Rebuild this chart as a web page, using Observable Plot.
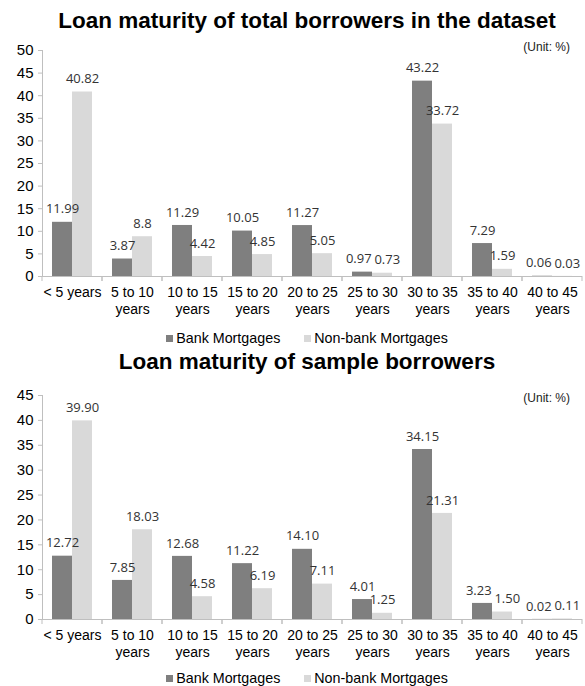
<!DOCTYPE html>
<html>
<head>
<meta charset="utf-8">
<script src="https://cdn.jsdelivr.net/npm/d3@7"></script>
<script src="https://cdn.jsdelivr.net/npm/@observablehq/plot@0.6"></script>
<style>
  body { margin: 0; background: #fff; font-family: "Liberation Sans", Arial, sans-serif; }
  #page { position: relative; width: 585px; height: 686px; overflow: hidden; background: #fff; }
  .title { position: absolute; left: 0; width: 585px; padding-left: 29px; box-sizing: border-box;
           text-align: center; font-weight: bold; font-size: 22.5px; color: #000; white-space: nowrap; }
  .unit { position: absolute; right: 15px; font-size: 12px; color: #222; }
  .legend { position: absolute; left: 0; width: 585px; padding-left: 29px; box-sizing: border-box;
            text-align: center; font-size: 14.3px; color: #000; white-space: nowrap; }
  .legend .item { display: inline-block; margin: 0 12px; }
  .legend .sw { display: inline-block; width: 7px; height: 7px; margin-right: 3px; vertical-align: 1px; }
  .chart { position: absolute; left: 0; }
</style>
</head>
<body>
<div id="page"></div>
<script>
// ---- data ----
const categories = ["< 5 years", "5 to 10\nyears", "10 to 15\nyears", "15 to 20\nyears", "20 to 25\nyears",
                    "25 to 30\nyears", "30 to 35\nyears", "35 to 40\nyears", "40 to 45\nyears"];
const series = ["Bank Mortgages", "Non-bank Mortgages"];
const seriesColors = ["#7f7f7f", "#d9d9d9"];

const totalTitle = "Loan maturity of total borrowers in the dataset";
const totalBank    = [11.99, 3.87, 11.29, 10.05, 11.27, 0.97, 43.22, 7.29, 0.06];
const totalNonBank = [40.82, 8.8, 4.42, 4.85, 5.05, 0.73, 33.72, 1.59, 0.03];
const totalTicks   = [0, 5, 10, 15, 20, 25, 30, 35, 40, 45, 50];

const sampleTitle = "Loan maturity of sample borrowers";
const sampleBank    = [12.72, 7.85, 12.68, 11.22, 14.10, 4.01, 34.15, 3.23, 0.02];
const sampleNonBank = [39.90, 18.03, 4.58, 6.19, 7.11, 1.25, 21.31, 1.50, 0.11];
const sampleTicks   = [0, 5, 10, 15, 20, 25, 30, 35, 40, 45];

const unitText = "(Unit: %)";

// ---- layout ----
const W = 585, ML = 39, MR = 0;
const barWidth = (W - ML - MR) / categories.length / 3;  // x band: padding 0, paddingOuter 0.5

// ---- helpers ----
function rows(bank, nonbank, fmt) {
  return categories.flatMap((c, i) => {
    const crowded = Math.abs(bank[i] - nonbank[i]) < 2;  // labels would collide if centred
    return [
      {cat: c, series: series[0], value: bank[i], label: fmt(bank[i]), crowded},
      {cat: c, series: series[1], value: nonbank[i], label: fmt(nonbank[i]), crowded}
    ];
  });
}

function boundaryTicks(index, scales) {
  const r = scales.x.range();
  const y0 = scales.y(0);
  const g = d3.create("svg:g").attr("stroke", "#bfbfbf");
  for (const xv of [r[0], r[1]]) {
    g.append("line").attr("x1", xv).attr("x2", xv).attr("y1", y0).attr("y2", y0 + 5);
  }
  return g.node();
}

function makeChart(data, ticks, height, marginTop, marginBottom) {
  const labelStyle = {fx: "cat", x: "series", y: "value", text: "label", dy: -13,
                      fontFamily: "'Open Sans', sans-serif", fontSize: 13, fill: "#333"};
  return Plot.plot({
    width: W,
    height,
    marginLeft: ML,
    marginRight: MR,
    marginTop,
    marginBottom,
    style: {fontFamily: "'Liberation Sans', Arial, sans-serif", fontSize: "14px", color: "#000", background: "transparent"},
    fx: {domain: categories, padding: 0, label: null, axis: null},
    x: {domain: series, padding: 0, paddingOuter: 0.5, axis: null},
    y: {domain: [0, d3.max(ticks)], label: null, axis: null},
    color: {domain: series, range: seriesColors},
    marks: [
      Plot.frame({anchor: "left", stroke: "#bfbfbf", facetAnchor: "left"}),
      Plot.ruleY([0], {stroke: "#bfbfbf"}),
      boundaryTicks,
      Plot.barY(data, {fx: "cat", x: "series", y: "value", fill: "series"}),
      Plot.text(data.filter(d => !d.crowded), labelStyle),
      Plot.text(data.filter(d => d.crowded && d.series === series[0]),
                {...labelStyle, textAnchor: "end", dx: barWidth / 2 - 1}),
      Plot.text(data.filter(d => d.crowded && d.series === series[1]),
                {...labelStyle, textAnchor: "start", dx: -barWidth / 2 + 2}),
      Plot.axisY({ticks, tickSize: 4, tickPadding: 5, stroke: "#bfbfbf", fill: "#000",
                  label: null, fontSize: 15}),
      Plot.axisFx({anchor: "bottom", tickSize: 0, tickPadding: 9, label: null,
                   lineHeight: 1.2, fontSize: 14, fill: "#000"})
    ]
  });
}

// ---- page ----
const page = document.getElementById("page");
function addDiv(cls, top, html, extra) {
  const d = document.createElement("div");
  d.className = cls;
  d.style.top = top + "px";
  if (extra) Object.assign(d.style, extra);
  d.innerHTML = html;
  page.appendChild(d);
  return d;
}
function legendHtml() {
  return series.map((s, i) =>
    `<span class="item"><span class="sw" style="background:${seriesColors[i]}"></span>${s}</span>`).join("");
}

// Chart 1
addDiv("title", 8, totalTitle, {lineHeight: "26px"});
addDiv("unit", 40, unitText, {lineHeight: "14px"});
const c1 = makeChart(rows(totalBank, totalNonBank, v => String(v)), totalTicks, 282, 12, 44);
addDiv("chart", 38, "").appendChild(c1);
addDiv("legend", 329, legendHtml(), {lineHeight: "18px"});

// Chart 2
addDiv("title", 349, sampleTitle, {lineHeight: "26px"});
addDiv("unit", 391, unitText, {lineHeight: "14px"});
const c2 = makeChart(rows(sampleBank, sampleNonBank, v => v.toFixed(2)), sampleTicks, 278, 10, 44);
addDiv("chart", 385, "").appendChild(c2);
addDiv("legend", 669, legendHtml(), {lineHeight: "18px"});
</script>
</body>
</html>
